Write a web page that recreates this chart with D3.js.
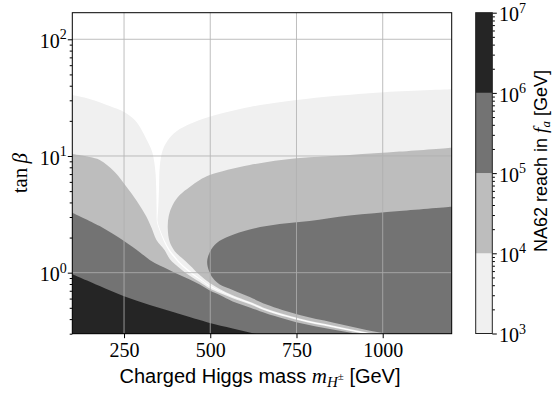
<!DOCTYPE html>
<html>
<head>
<meta charset="utf-8">
<script src="https://cdn.jsdelivr.net/npm/d3@7"></script>
<style>
  body { margin: 0; background: #fff; }
  svg { display: block; }
</style>
</head>
<body>
<svg id="chart" width="553" height="394"></svg>
<script>
// axis ticks
const massTicks = [250, 500, 750, 1000];
const tanbTicks = [1, 10, 100];
const reachLevels = [1e3, 1e4, 1e5, 1e6, 1e7];

// contour boundaries, [m_H+ (GeV), tan beta]
// left branch: region below/left of the curve has reach >= level
const left1e3 = [[100,33.3],[150,30.8],[208,26.8],[250,23.8],[281,20.3],[301,16.7],[316,13.7],[331.7,10.8],[340.5,7.6],
  [343.4,5.11],[344.5,3.45],[345.4,2.72],[353.5,2.29],[368,1.79],[382.5,1.50],[397,1.33],[411.5,1.19],[440.5,1.00],
  [469.5,0.876],[498.5,0.763],[527.5,0.692],[565,0.618],[614.5,0.546],[663,0.475],[759,0.394],[855,0.343],[953,0.300],[1049,0.268]];
const left1e4 = [[100,10.4],[150.5,9.8],[179.5,9.24],[223,7.29],[257,5.46],[287,4.12],[315,3.02],[330,2.42],[344,1.91],
  [368,1.56],[382.5,1.31],[411.5,1.09],[440.5,0.94],[469.5,0.832],[498.5,0.732],[527.5,0.670],[565,0.605],[614.5,0.537],
  [663,0.469],[759,0.389],[855,0.339],[953,0.297],[1049,0.265]];
const left1e5 = [[100,3.27],[179.5,2.51],[250,1.87],[295.5,1.50],[324.5,1.285],[353.5,1.15],[382.5,1.05],[411.5,0.956],
  [440.5,0.874],[469.5,0.792],[498.5,0.704],[527.5,0.644],[565,0.567],[614.5,0.503],[663,0.447],[759,0.371],[855,0.326],
  [953,0.290],[1049,0.260]];
const left1e6 = [[100,0.969],[179.5,0.769],[250,0.628],[324.5,0.529],[397,0.456],[469.5,0.393],[498.5,0.371],[565,0.333],
  [634,0.298],[701,0.27]];

// right branch: region inside the "C" (towards large mass) has reach >= level
const right1e3 = [[1200,37.3],[991,35.0],[750,30.2],[614.5,26.3],[498.5,21.7],[455,19.6],[411.5,17.0],[382.5,14.3],
  [362.2,11.26],[353.5,8.05],[351.5,5.43],[350,4.12],[348.6,3.38],[347.1,2.77],[353.5,2.37],[368,1.88],[382.5,1.57],[397,1.39],
  [411.5,1.235],[440.5,1.038],[469.5,0.890],[498.5,0.775],[527.5,0.703],[565,0.628],[614.5,0.554],[663,0.483],[759,0.400],
  [855,0.349],[953,0.305],[1049,0.2725]];
const right1e4 = [[1200,11.78],[1049,10.9],[904,10.2],[750,9.56],[614.5,8.37],[498.5,6.87],[469.5,6.23],[440.5,5.43],
  [411.5,4.63],[391,3.80],[379.6,3.06],[376.7,2.42],[382.5,1.83],[397,1.53],[417,1.34],[440.5,1.16],[469.5,0.956],
  [498.5,0.816],[527.5,0.725],[565,0.641],[614.5,0.563],[663,0.490],[759,0.405],[855,0.353],[953,0.3085],[1049,0.276]];
const right1e5 = [[1200,3.68],[1049,3.38],[904,3.09],[788,2.77],[701,2.61],[614.5,2.35],[556.5,2.06],[518,1.79],
  [498.5,1.50],[491,1.24],[495.6,1.05],[508,0.895],[527.5,0.792],[565,0.711],[614.5,0.619],[663,0.534],[759,0.434],
  [855,0.375],[953,0.323],[1049,0.287]];

const fills = ["#f0f0f0", "#bdbdbd", "#737373", "#252525"];
const leftBounds = [left1e3, left1e4, left1e5, left1e6];
const rightBounds = [right1e3, right1e4, right1e5];

const serif = "'Liberation Serif', 'DejaVu Serif', serif";
const sans = "'Liberation Sans', Arial, sans-serif";

const plot = { left: 72.3, top: 12.7, right: 451.7, bottom: 333.7 };
const cbar = { left: 475.7, right: 492.3, top: 12.7, bottom: 333.5 };

const svg = d3.select("#chart");

const x = d3.scaleLinear().domain([100, 1200]).range([plot.left, plot.right]);
const y = d3.scaleLog().domain([0.3, 169]).range([plot.bottom, plot.top]);

svg.append("clipPath").attr("id", "plotclip")
  .append("rect")
  .attr("x", plot.left).attr("y", plot.top)
  .attr("width", plot.right - plot.left).attr("height", plot.bottom - plot.top);

const body = svg.append("g").attr("clip-path", "url(#plotclip)");

const curve = d3.line()
  .x(d => x(d[0]))
  .y(d => y(d[1]))
  .curve(d3.curveCatmullRom.alpha(0.5));

function leftPath(pts) {
  const last = pts[pts.length - 1];
  return curve(pts) +
    "L" + x(last[0]) + "," + y(0.2) +
    "L" + x(60) + "," + y(0.2) +
    "L" + x(60) + "," + y(pts[0][1]) +
    "L" + x(pts[0][0]) + "," + y(pts[0][1]) + "Z";
}

function rightPath(pts) {
  const last = pts[pts.length - 1];
  return curve(pts) +
    "L" + x(last[0]) + "," + y(0.2) +
    "L" + x(1300) + "," + y(0.2) +
    "L" + x(1300) + "," + y(pts[0][1]) + "Z";
}

fills.forEach((c, i) => {
  if (leftBounds[i]) body.append("path").attr("d", leftPath(leftBounds[i])).attr("fill", c);
  if (rightBounds[i]) body.append("path").attr("d", rightPath(rightBounds[i])).attr("fill", c);
});

// grid
const grid = svg.append("g").attr("stroke", "#b0b0b0").attr("stroke-width", 0.9).attr("opacity", 0.9);
massTicks.forEach(v => {
  grid.append("line").attr("x1", x(v)).attr("x2", x(v)).attr("y1", plot.top).attr("y2", plot.bottom);
});
tanbTicks.forEach(v => {
  grid.append("line").attr("x1", plot.left).attr("x2", plot.right).attr("y1", y(v)).attr("y2", y(v));
});

// x axis
const xAxis = svg.append("g")
  .attr("transform", "translate(0," + plot.bottom + ")")
  .call(d3.axisBottom(x).tickValues(massTicks).tickSize(4.5).tickPadding(4).tickFormat(d3.format("d")));
xAxis.select(".domain").remove();
xAxis.selectAll("text").attr("font-family", serif).attr("font-size", 20).attr("fill", "#000").attr("dy", "0.75em");

// y axis, major + minor ticks
const yMinor = y.ticks().filter(v => Math.abs(Math.log10(v) - Math.round(Math.log10(v))) > 1e-6);
const yAxisMin = svg.append("g")
  .attr("transform", "translate(" + plot.left + ",0)")
  .call(d3.axisLeft(y).tickValues(yMinor).tickSize(2.6).tickFormat(""));
yAxisMin.select(".domain").remove();
const yAxis = svg.append("g")
  .attr("transform", "translate(" + plot.left + ",0)")
  .call(d3.axisLeft(y).tickValues(tanbTicks).tickSize(4.5).tickFormat(""));
yAxis.select(".domain").remove();

function powText(g, px, py, k, anchor) {
  const t = g.append("text").attr("x", px).attr("y", py)
    .attr("font-family", serif).attr("font-size", 20).attr("text-anchor", anchor).attr("fill", "#000");
  t.append("tspan").text("10");
  t.append("tspan").attr("dy", -8.5).attr("font-size", 14).text(k);
}
tanbTicks.forEach(v => powText(svg, plot.left - 5.5, y(v) + 8.6, Math.round(Math.log10(v)), "end"));

// frame
svg.append("rect")
  .attr("x", plot.left).attr("y", plot.top)
  .attr("width", plot.right - plot.left).attr("height", plot.bottom - plot.top)
  .attr("fill", "none").attr("stroke", "#000").attr("stroke-width", 1);

// axis labels
const xl = svg.append("text").attr("x", (plot.left + plot.right) / 2 - 2).attr("y", 382.5)
  .attr("text-anchor", "middle").attr("font-family", sans).attr("font-size", 20).attr("fill", "#000");
xl.append("tspan").text("Charged Higgs mass ");
xl.append("tspan").attr("font-family", serif).attr("font-style", "italic").attr("font-size", 21).text("m");
xl.append("tspan").attr("font-family", serif).attr("font-style", "italic").attr("font-size", 15).attr("dy", 4).text("H");
xl.append("tspan").attr("font-family", serif).attr("font-size", 11).attr("dy", -7).text("±");
xl.append("tspan").attr("dy", 3).text(" [GeV]");

const yl = svg.append("text")
  .attr("transform", "translate(27," + (plot.top + plot.bottom) / 2 + ") rotate(-90)")
  .attr("text-anchor", "middle").attr("font-family", serif).attr("font-size", 21).attr("fill", "#000");
yl.append("tspan").text("tan\u2009");
yl.append("tspan").attr("font-style", "italic").text("β");

// colorbar
const cy = d3.scaleLog().domain([reachLevels[0], reachLevels[reachLevels.length - 1]]).range([cbar.bottom, cbar.top]);
fills.forEach((c, i) => {
  svg.append("rect")
    .attr("x", cbar.left).attr("width", cbar.right - cbar.left)
    .attr("y", cy(reachLevels[i + 1])).attr("height", cy(reachLevels[i]) - cy(reachLevels[i + 1]))
    .attr("fill", c);
});
const cMinor = cy.ticks().filter(v => Math.abs(Math.log10(v) - Math.round(Math.log10(v))) > 1e-6);
const cAxisMin = svg.append("g")
  .attr("transform", "translate(" + cbar.right + ",0)")
  .call(d3.axisRight(cy).tickValues(cMinor).tickSize(2.6).tickFormat(""));
cAxisMin.select(".domain").remove();
const cAxis = svg.append("g")
  .attr("transform", "translate(" + cbar.right + ",0)")
  .call(d3.axisRight(cy).tickValues(reachLevels).tickSize(4.5).tickFormat(""));
cAxis.select(".domain").remove();
svg.append("rect")
  .attr("x", cbar.left).attr("y", cbar.top)
  .attr("width", cbar.right - cbar.left).attr("height", cbar.bottom - cbar.top)
  .attr("fill", "none").attr("stroke", "#222").attr("stroke-width", 1);
reachLevels.forEach(v => powText(svg, 499, cy(v) + 8.6, Math.round(Math.log10(v)), "start"));

const cl = svg.append("text")
  .attr("transform", "translate(546.5,161) rotate(-90)")
  .attr("text-anchor", "middle").attr("font-family", sans).attr("font-size", 18).attr("fill", "#000");
cl.append("tspan").text("NA62 reach in ");
cl.append("tspan").attr("font-family", serif).attr("font-style", "italic").attr("font-size", 19).text("f");
cl.append("tspan").attr("font-family", serif).attr("font-style", "italic").attr("font-size", 13).attr("dy", 3.5).text("a");
cl.append("tspan").attr("dy", -3.5).text(" [GeV]");
</script>
</body>
</html>
